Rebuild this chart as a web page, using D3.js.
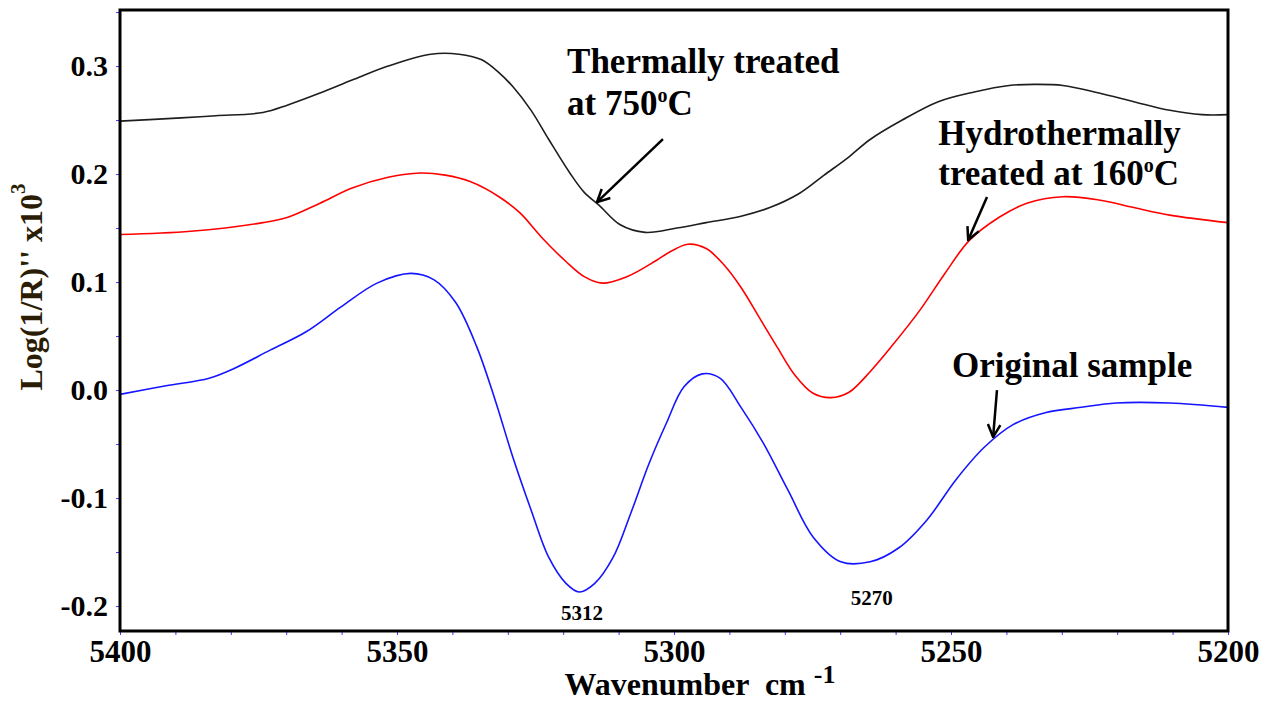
<!DOCTYPE html>
<html>
<head>
<meta charset="utf-8">
<script src="https://cdn.jsdelivr.net/npm/d3@7"></script>
<style>
  body { margin: 0; background: #fff; }
  text { font-family: "Liberation Serif", "Times New Roman", serif; font-weight: bold; }
</style>
</head>
<body>
<div id="chart"></div>
<script>
// values
const thermalWn = [5400, 5389.0, 5382.7, 5374.2, 5369.7, 5363.9, 5358.1, 5351.6, 5343.9, 5338.8, 5334.8, 5331.6, 5329.1, 5325.8, 5322.6, 5318.8, 5316.2, 5313.5, 5309.7, 5305.2, 5299.5, 5294.2, 5287.9, 5282.7, 5277.4, 5272.9, 5268.4, 5264.6, 5258.8, 5252.3, 5245.8, 5239.5, 5235.0, 5229.8, 5223.3, 5217.0, 5210.5, 5204.7, 5200];
const thermalVal = [0.249, 0.252, 0.254, 0.257, 0.264, 0.275, 0.287, 0.300, 0.311, 0.311, 0.306, 0.294, 0.281, 0.259, 0.232, 0.201, 0.183, 0.171, 0.153, 0.146, 0.150, 0.155, 0.161, 0.169, 0.182, 0.199, 0.216, 0.232, 0.250, 0.267, 0.276, 0.282, 0.283, 0.282, 0.275, 0.267, 0.259, 0.255, 0.255];

const hydroWn = [5400, 5387.2, 5374.2, 5369.7, 5363.9, 5358.1, 5351.6, 5345.8, 5341.3, 5336.8, 5331.6, 5327.8, 5324.0, 5319.5, 5316.2, 5313.0, 5308.5, 5303.2, 5300.7, 5297.5, 5294.2, 5291.0, 5287.9, 5284.7, 5281.4, 5278.2, 5274.9, 5271.7, 5268.4, 5264.6, 5260.8, 5255.6, 5251.1, 5246.6, 5241.3, 5236.3, 5229.8, 5223.3, 5217.0, 5210.5, 5200];
const hydroVal = [0.144, 0.147, 0.155, 0.160, 0.173, 0.187, 0.197, 0.201, 0.199, 0.193, 0.179, 0.164, 0.142, 0.119, 0.105, 0.099, 0.105, 0.120, 0.128, 0.135, 0.131, 0.116, 0.095, 0.068, 0.040, 0.014, -0.003, -0.007, -0.002, 0.017, 0.040, 0.074, 0.108, 0.139, 0.160, 0.173, 0.179, 0.176, 0.169, 0.162, 0.155];

const originalWn = [5400, 5391.7, 5383.9, 5379.4, 5372.9, 5366.4, 5360.1, 5353.6, 5347.5, 5343.3, 5339.4, 5335.6, 5332.3, 5329.1, 5325.8, 5322.6, 5319.5, 5317.1, 5314.3, 5311.0, 5307.8, 5304.5, 5301.4, 5298.2, 5294.9, 5291.7, 5287.9, 5283.9, 5279.4, 5274.9, 5269.9, 5264.6, 5259.4, 5254.3, 5249.1, 5244.0, 5238.8, 5233.0, 5226.5, 5220.2, 5210.5, 5200];
const originalVal = [-0.004, 0.004, 0.011, 0.020, 0.037, 0.054, 0.077, 0.099, 0.108, 0.102, 0.081, 0.040, -0.009, -0.062, -0.111, -0.155, -0.179, -0.187, -0.179, -0.155, -0.114, -0.068, -0.031, 0.003, 0.015, 0.011, -0.016, -0.049, -0.093, -0.136, -0.159, -0.159, -0.146, -0.120, -0.083, -0.053, -0.032, -0.021, -0.016, -0.012, -0.012, -0.016];

const xTickLabels = [5400, 5350, 5300, 5250, 5200];
const yTickLabels = [0.3, 0.2, 0.1, 0.0, -0.1, -0.2];
const peakLabels = [{wn: 5316.6, v: -0.213, text: "5312"}, {wn: 5264.3, v: -0.199, text: "5270"}];

const width = 1271, height = 702;
const plot = {left: 120, right: 1228, top: 10, bottom: 631};

const x = d3.scaleLinear().domain([5400, 5200]).range([plot.left, plot.right]);
const y = d3.scaleLinear().domain([-0.2231, 0.3519]).range([plot.bottom, plot.top]);

const svg = d3.select("#chart").append("svg")
  .attr("width", width)
  .attr("height", height);

svg.append("defs").append("marker")
  .attr("id", "arrow")
  .attr("viewBox", "0 0 12 12")
  .attr("refX", 11).attr("refY", 6)
  .attr("markerWidth", 6).attr("markerHeight", 6)
  .attr("markerUnits", "strokeWidth")
  .attr("orient", "auto")
  .append("path")
  .attr("d", "M1,1 L11,6 L1,11")
  .attr("fill", "none")
  .attr("stroke", "#000")
  .attr("stroke-width", 2);

// minor ticks
svg.append("g")
  .attr("transform", "translate(0," + plot.bottom + ")")
  .call(d3.axisBottom(x).tickValues(d3.range(5200, 5401, 10)).tickSize(4).tickFormat(""))
  .call(g => g.select(".domain").remove())
  .call(g => g.selectAll(".tick line").attr("stroke", "#3a3aff"));

svg.append("g")
  .attr("transform", "translate(" + plot.left + ",0)")
  .call(d3.axisLeft(y).tickValues(d3.range(-0.2, 0.351, 0.05)).tickSize(4).tickFormat(""))
  .call(g => g.select(".domain").remove())
  .call(g => g.selectAll(".tick line").attr("stroke", "#3a3aff"));

// tick labels
svg.append("g")
  .attr("transform", "translate(0," + plot.bottom + ")")
  .call(d3.axisBottom(x).tickValues(xTickLabels).tickSize(0).tickPadding(9).tickFormat(d3.format("d")))
  .call(g => g.select(".domain").remove())
  .call(g => g.selectAll("text").style("font-size", "31px").attr("fill", "#000"));

svg.append("g")
  .attr("transform", "translate(" + plot.left + ",0)")
  .call(d3.axisLeft(y).tickValues(yTickLabels).tickSize(0).tickPadding(12).tickFormat(d => d.toFixed(1)))
  .call(g => g.select(".domain").remove())
  .call(g => g.selectAll("text").style("font-size", "30px").attr("fill", "#000"));

// curves
const line = d3.line()
  .x(d => x(d[0]))
  .y(d => y(d[1]))
  .curve(d3.curveCatmullRom.alpha(0.5));

const series = [
  {wn: thermalWn, val: thermalVal, color: "#1e1e1e"},
  {wn: hydroWn, val: hydroVal, color: "#ff0000"},
  {wn: originalWn, val: originalVal, color: "#1515ff"}
];

series.forEach(s => {
  svg.append("path")
    .datum(d3.zip(s.wn, s.val))
    .attr("fill", "none")
    .attr("stroke", s.color)
    .attr("stroke-width", 1.6)
    .attr("d", line);
});

// frame
svg.append("rect")
  .attr("x", plot.left).attr("y", plot.top)
  .attr("width", plot.right - plot.left)
  .attr("height", plot.bottom - plot.top)
  .attr("fill", "none")
  .attr("stroke", "#000")
  .attr("stroke-width", 3);

// axis titles
const yTitle = svg.append("text")
  .attr("transform", "translate(42,287) rotate(-90)")
  .attr("text-anchor", "middle")
  .attr("fill", "#2b1d05")
  .style("font-size", "32px");
yTitle.append("tspan").text("Log(1/R)'' x10");
yTitle.append("tspan").text("3").attr("dy", -17).style("font-size", "21px");

const xTitle = svg.append("text")
  .attr("x", 700).attr("y", 695)
  .attr("text-anchor", "middle")
  .attr("fill", "#000")
  .style("font-size", "32px")
  .style("white-space", "pre");
xTitle.append("tspan").text("Wavenumber  cm ");
xTitle.append("tspan").text("-1").attr("dy", -12).style("font-size", "26px");

// annotations
function label(wn, v, parts) {
  const t = svg.append("text")
    .attr("x", x(wn)).attr("y", y(v))
    .attr("fill", "#000")
    .style("font-size", "35px");
  parts.forEach(p => {
    const ts = t.append("tspan").text(p.text);
    if (p.sup) ts.attr("dy", -13).style("font-size", "20px");
    if (p.after) ts.attr("dy", 13);
  });
  return t;
}

label(5319.3, 0.2935, [{text: "Thermally treated"}]);
label(5319.3, 0.2546, [{text: "at 750"}, {text: "o", sup: true}, {text: "C", after: true}]);
label(5252.3, 0.2269, [{text: "Hydrothermally"}]);
label(5252.3, 0.1898, [{text: "treated at 160"}, {text: "o", sup: true}, {text: "C", after: true}]);
label(5249.8, 0.012, [{text: "Original sample"}]);

const arrows = [
  {from: [5302.0, 0.2324], to: [5313.9, 0.174]},
  {from: [5243.5, 0.1787], to: [5246.9, 0.1389]},
  {from: [5241.7, 0.0], to: [5242.4, -0.0435]}
];
arrows.forEach(a => {
  svg.append("line")
    .attr("x1", x(a.from[0])).attr("y1", y(a.from[1]))
    .attr("x2", x(a.to[0])).attr("y2", y(a.to[1]))
    .attr("stroke", "#000")
    .attr("stroke-width", 2.5)
    .attr("marker-end", "url(#arrow)");
});

svg.selectAll(".peak")
  .data(peakLabels)
  .enter()
  .append("text")
  .attr("class", "peak")
  .attr("x", d => x(d.wn))
  .attr("y", d => y(d.v))
  .attr("text-anchor", "middle")
  .attr("fill", "#000")
  .style("font-size", "21px")
  .text(d => d.text);
</script>
</body>
</html>
